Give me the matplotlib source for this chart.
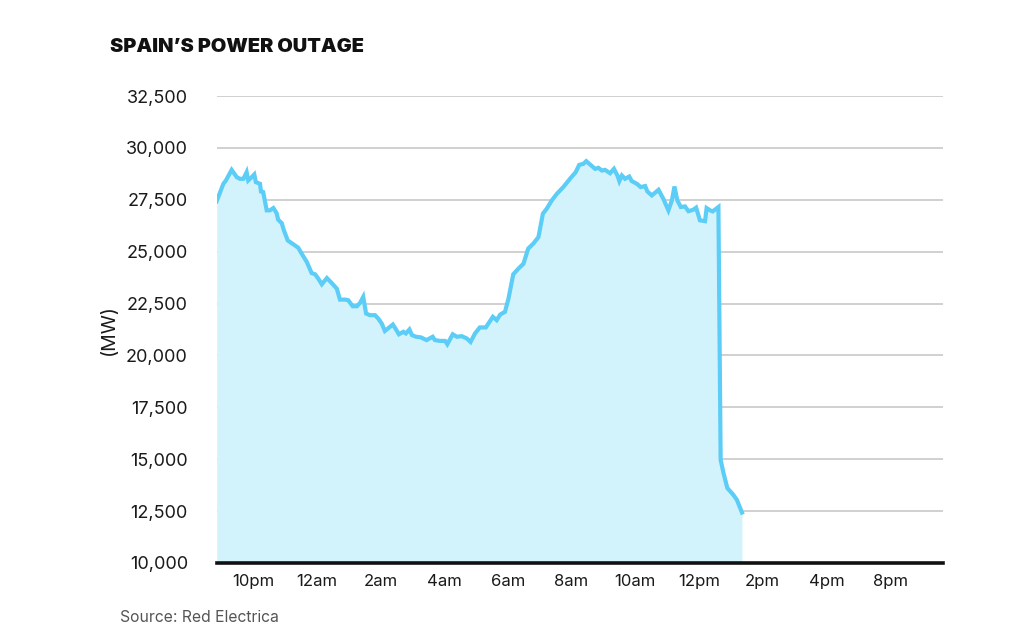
import matplotlib
matplotlib.use("Agg")
import matplotlib.pyplot as plt
import numpy as np

# hours relative to 10pm (negative = before 10pm)
hours = [-1.14, -0.93, -0.85, -0.67, -0.51, -0.41, -0.30, -0.20, -0.15, -0.04,
         0.04, 0.09, 0.22, 0.25, 0.32, 0.43, 0.53, 0.64, 0.74, 0.79,
         0.90, 0.97, 1.09, 1.27, 1.42, 1.53, 1.69, 1.84, 1.95, 2.05,
         2.16, 2.32, 2.47, 2.63, 2.73, 2.89, 2.99, 3.13, 3.26, 3.36,
         3.46, 3.55, 3.67, 3.83, 3.93, 4.04, 4.14, 4.30, 4.39, 4.49,
         4.58, 4.72, 4.80, 4.91, 4.99, 5.12, 5.27, 5.45, 5.64, 5.71,
         5.87, 6.03, 6.10, 6.27, 6.40, 6.55, 6.71, 6.83, 6.97, 7.12,
         7.31, 7.39, 7.53, 7.65, 7.76, 7.91, 8.02, 8.17, 8.33, 8.49,
         8.64, 8.80, 8.96, 9.10, 9.22, 9.38, 9.54, 9.74, 9.95, 10.13,
         10.24, 10.37, 10.46, 10.58, 10.74, 10.84, 10.95, 11.05, 11.21, 11.33,
         11.44, 11.50, 11.58, 11.68, 11.81, 11.89, 12.05, 12.17, 12.31, 12.38,
         12.52, 12.73, 12.88, 13.04, 13.15, 13.23, 13.32, 13.43, 13.56, 13.67,
         13.82, 13.91, 14.03, 14.19, 14.24, 14.35, 14.43, 14.61, 14.66, 14.68,
         14.77, 14.89, 15.08, 15.19, 15.35]

demand_mw = [27430, 28270, 28430, 28940, 28590, 28510, 28510, 28830, 28430, 28590,
             28720, 28350, 28270, 27900, 27870, 26990, 26990, 27100, 26860, 26540,
             26380, 26030, 25540, 25350, 25190, 24900, 24500, 23970, 23910, 23700,
             23430, 23730, 23490, 23220, 22690, 22690, 22660, 22370, 22370, 22530,
             22820, 22020, 21940, 21940, 21780, 21540, 21180, 21380, 21490, 21250,
             21020, 21140, 21060, 21250, 20980, 20900, 20870, 20740, 20900, 20740,
             20700, 20700, 20540, 21020, 20900, 20930, 20820, 20650, 21060, 21350,
             21350, 21540, 21860, 21700, 21970, 22100, 22740, 23910, 24180, 24420,
             25150, 25390, 25700, 26830, 27070, 27470, 27790, 28110, 28510, 28830,
             29180, 29230, 29360, 29200, 28990, 29040, 28910, 28940, 28780, 28990,
             28670, 28400, 28670, 28510, 28620, 28400, 28270, 28110, 28160, 27900,
             27710, 27980, 27550, 26990, 27470, 28140, 27470, 27150, 27180, 26950,
             27020, 27120, 26510, 26470, 27100, 26990, 26940, 27150, 18810, 14970,
             14330, 13610, 13280, 13040, 12430]

tick_hours = [0, 2, 4, 6, 8, 10, 12, 14, 16, 18, 20]
tick_labels = ['10pm', '12am', '2am', '4am', '6am', '8am', '10am', '12pm', '2pm', '4pm', '8pm']
y_ticks = [10000, 12500, 15000, 17500, 20000, 22500, 25000, 27500, 30000, 32500]

plt.rcParams['font.family'] = ['Inter', 'DejaVu Sans']

fig = plt.figure(figsize=(10.24, 6.38), dpi=100)
ax = fig.add_axes([217/1024, 1 - 563/638, (943 - 217)/1024, (563 - 96)/638])

line_color = '#5ccdf6'
fill_color = '#d3f3fc'

ax.fill_between(hours, demand_mw, 10000, color=fill_color, lw=0, zorder=1)
ax.plot(hours, demand_mw, color=line_color, lw=3.0, solid_joinstyle='miter', zorder=3)

ax.set_xlim(-1.13, 21.66)
ax.set_ylim(10000, 32500)
ax.set_yticks(y_ticks)
ax.set_yticklabels([f'{v:,}' for v in y_ticks])
ax.set_xticks(tick_hours)
ax.set_xticklabels(tick_labels)

ax.grid(axis='y', color='#c8c8c8', lw=1.2, zorder=0)
ax.set_axisbelow(True)
for s in ['top', 'right', 'left']:
    ax.spines[s].set_visible(False)
ax.spines['bottom'].set_color('#111111')
ax.spines['bottom'].set_linewidth(2.6)
ax.spines['bottom'].set_zorder(4)

ax.tick_params(axis='x', length=0, labelsize=12, colors='#1a1a1a', pad=8)
ax.tick_params(axis='y', length=0, labelsize=13, colors='#1a1a1a', pad=21)

ax.set_ylabel('(MW)', fontsize=14, color='#1a1a1a', labelpad=6)

fig.text(110/1024, 1 - 47/638, 'SPAIN\u2019S POWER OUTAGE', fontsize=14.4, fontweight='black',
         color='#111111', va='center', ha='left')
fig.text(120/1024, 1 - 618/638, 'Source: Red Electrica', fontsize=11.3, color='#555555',
         va='center', ha='left')

fig.savefig('out.png', dpi=100)
